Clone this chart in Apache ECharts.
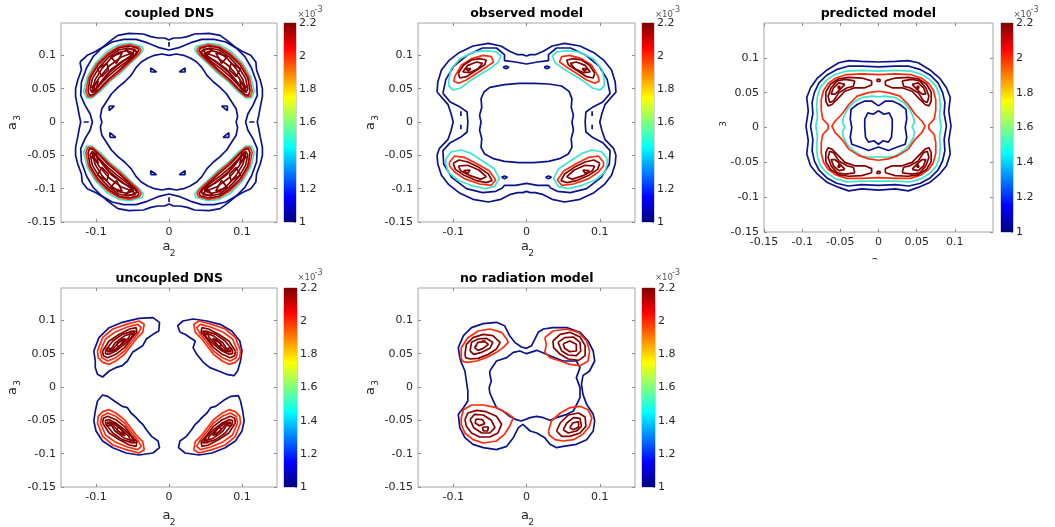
<!DOCTYPE html>
<html><head><meta charset="utf-8">
<script src="https://cdn.jsdelivr.net/npm/echarts@6/dist/echarts.min.js"></script>
<style>html,body{margin:0;padding:0;background:#fff}#c{width:1055px;height:527px}</style>
</head><body><div id="c"></div>
<script>
// ---------------- data (a2, a3 coordinates of contour lines) ----------------
const titles = ['coupled DNS','observed model','predicted model','uncoupled DNS','no radiation model'];
const xTicks = [-0.1, 0, 0.1];
const xTicksPred = [-0.15, -0.1, -0.05, 0, 0.05, 0.1];
const yTicks = [-0.15, -0.1, -0.05, 0, 0.05, 0.1];
const cbTicks = [1, 1.2, 1.4, 1.6, 1.8, 2, 2.2];
const cbMin = 1, cbMax = 2.2;

// coupled DNS
const coupledNavy = [
 [[-0.122,0.090],[-0.112,0.100],[-0.100,0.106],[-0.090,0.113],[-0.080,0.122],[-0.070,0.130],[-0.055,0.133],[-0.035,0.132],[-0.025,0.128],[-0.015,0.126],[-0.006,0.126],[0,0.123],[0.006,0.126],[0.015,0.126],[0.025,0.128],[0.035,0.132],[0.055,0.133],[0.070,0.130],[0.080,0.122],[0.090,0.113],[0.100,0.106],[0.112,0.100],[0.119,0.090],[0.120,0.078],[0.125,0.063],[0.128,0.050],[0.128,0.038],[0.125,0.022],[0.123,0.010],[0.121,0],[0.123,-0.010],[0.125,-0.022],[0.128,-0.038],[0.128,-0.050],[0.125,-0.063],[0.120,-0.078],[0.119,-0.090],[0.112,-0.100],[0.100,-0.106],[0.090,-0.113],[0.080,-0.122],[0.070,-0.130],[0.055,-0.133],[0.035,-0.132],[0.025,-0.128],[0.015,-0.126],[0.006,-0.126],[0,-0.123],[-0.006,-0.126],[-0.015,-0.126],[-0.025,-0.128],[-0.035,-0.132],[-0.055,-0.133],[-0.070,-0.130],[-0.080,-0.122],[-0.090,-0.113],[-0.100,-0.106],[-0.112,-0.100],[-0.119,-0.090],[-0.120,-0.078],[-0.125,-0.063],[-0.128,-0.050],[-0.128,-0.038],[-0.125,-0.022],[-0.123,-0.010],[-0.121,0],[-0.123,0.010],[-0.125,0.022],[-0.128,0.038],[-0.128,0.050],[-0.125,0.063],[-0.120,0.078]],
 [[0,0.108],[0.015,0.112],[0.030,0.119],[0.045,0.124],[0.062,0.124],[0.078,0.120],[0.092,0.111],[0.104,0.098],[0.113,0.081],[0.120,0.060],[0.121,0.040],[0.115,0.025],[0.108,0.012],[0.105,0],[0.108,-0.012],[0.115,-0.025],[0.121,-0.040],[0.120,-0.060],[0.113,-0.081],[0.104,-0.098],[0.092,-0.111],[0.078,-0.120],[0.062,-0.124],[0.045,-0.124],[0.030,-0.119],[0.015,-0.112],[0,-0.108],[-0.015,-0.112],[-0.030,-0.119],[-0.045,-0.124],[-0.062,-0.124],[-0.078,-0.120],[-0.092,-0.111],[-0.104,-0.098],[-0.113,-0.081],[-0.120,-0.060],[-0.121,-0.040],[-0.115,-0.025],[-0.108,-0.012],[-0.105,0],[-0.108,0.012],[-0.115,0.025],[-0.121,0.040],[-0.120,0.060],[-0.113,0.081],[-0.104,0.098],[-0.092,0.111],[-0.078,0.120],[-0.062,0.124],[-0.045,0.124],[-0.030,0.119],[-0.015,0.112]],
 [[0,0.100],[0.010,0.102],[0.020,0.100],[0.029,0.096],[0.038,0.090],[0.045,0.082],[0.052,0.070],[0.061,0.060],[0.070,0.052],[0.079,0.042],[0.086,0.030],[0.092,0.020],[0.094,0.008],[0.092,0],[0.094,-0.008],[0.092,-0.020],[0.086,-0.030],[0.079,-0.042],[0.070,-0.052],[0.061,-0.060],[0.052,-0.070],[0.045,-0.082],[0.038,-0.090],[0.029,-0.096],[0.020,-0.100],[0.010,-0.102],[0,-0.100],[-0.010,-0.102],[-0.020,-0.100],[-0.029,-0.096],[-0.038,-0.090],[-0.045,-0.082],[-0.052,-0.070],[-0.061,-0.060],[-0.070,-0.052],[-0.079,-0.042],[-0.086,-0.030],[-0.092,-0.020],[-0.094,-0.008],[-0.092,0],[-0.094,0.008],[-0.092,0.020],[-0.086,0.030],[-0.079,0.042],[-0.070,0.052],[-0.061,0.060],[-0.052,0.070],[-0.045,0.082],[-0.038,0.090],[-0.029,0.096],[-0.020,0.100],[-0.010,0.102]],
 [[-0.025,0.075],[-0.017,0.075],[-0.025,0.081]],
 [[0.014,0.075],[0.022,0.075],[0.022,0.081]],
 [[-0.082,0.024],[-0.075,0.024],[-0.082,0.017]],
 [[0.072,0.024],[0.080,0.024],[0.080,0.017]],
 [[-0.081,-0.023],[-0.073,-0.023],[-0.081,-0.016]],
 [[0.074,-0.023],[0.082,-0.023],[0.082,-0.016]],
 [[-0.025,-0.079],[-0.017,-0.079],[-0.025,-0.073]],
 [[0.014,-0.079],[0.022,-0.079],[0.022,-0.073]],
 [[0,0.113],[0,0.120]],
 [[0,-0.113],[0,-0.120]],
 [[-0.117,0],[-0.110,0]],
 [[0.110,0],[0.117,0]]
];
const coupledCyan = [
 [[0.035,0.108],[0.037,0.113],[0.053,0.118],[0.069,0.116],[0.085,0.106],[0.101,0.088],[0.112,0.068],[0.117,0.046],[0.113,0.036],[0.106,0.036],[0.094,0.046],[0.081,0.061],[0.067,0.073],[0.053,0.088],[0.040,0.101]],
 [[-0.035,0.108],[-0.037,0.113],[-0.053,0.118],[-0.069,0.116],[-0.085,0.106],[-0.101,0.088],[-0.112,0.068],[-0.117,0.046],[-0.113,0.036],[-0.106,0.036],[-0.094,0.046],[-0.081,0.061],[-0.067,0.073],[-0.053,0.088],[-0.040,0.101]],
 [[0.035,-0.108],[0.037,-0.113],[0.053,-0.118],[0.069,-0.116],[0.085,-0.106],[0.101,-0.088],[0.112,-0.068],[0.117,-0.046],[0.113,-0.036],[0.106,-0.036],[0.094,-0.046],[0.081,-0.061],[0.067,-0.073],[0.053,-0.088],[0.040,-0.101]],
 [[-0.035,-0.108],[-0.037,-0.113],[-0.053,-0.118],[-0.069,-0.116],[-0.085,-0.106],[-0.101,-0.088],[-0.112,-0.068],[-0.117,-0.046],[-0.113,-0.036],[-0.106,-0.036],[-0.094,-0.046],[-0.081,-0.061],[-0.067,-0.073],[-0.053,-0.088],[-0.040,-0.101]]
];
const coupledRed = [
 [[0.038,0.108],[0.041,0.112],[0.054,0.116],[0.069,0.113],[0.084,0.103],[0.099,0.087],[0.110,0.067],[0.114,0.046],[0.111,0.038],[0.105,0.038],[0.095,0.048],[0.082,0.062],[0.068,0.075],[0.054,0.089],[0.042,0.101]],
 [[-0.038,0.108],[-0.041,0.112],[-0.054,0.116],[-0.069,0.113],[-0.084,0.103],[-0.099,0.087],[-0.110,0.067],[-0.114,0.046],[-0.111,0.038],[-0.105,0.038],[-0.095,0.048],[-0.082,0.062],[-0.068,0.075],[-0.054,0.089],[-0.042,0.101]],
 [[0.038,-0.108],[0.041,-0.112],[0.054,-0.116],[0.069,-0.113],[0.084,-0.103],[0.099,-0.087],[0.110,-0.067],[0.114,-0.046],[0.111,-0.038],[0.105,-0.038],[0.095,-0.048],[0.082,-0.062],[0.068,-0.075],[0.054,-0.089],[0.042,-0.101]],
 [[-0.038,-0.108],[-0.041,-0.112],[-0.054,-0.116],[-0.069,-0.113],[-0.084,-0.103],[-0.099,-0.087],[-0.110,-0.067],[-0.114,-0.046],[-0.111,-0.038],[-0.105,-0.038],[-0.095,-0.048],[-0.082,-0.062],[-0.068,-0.075],[-0.054,-0.089],[-0.042,-0.101]]
];
const coupledDark = [
 [[0.041,0.108],[0.044,0.111],[0.055,0.114],[0.069,0.111],[0.083,0.101],[0.097,0.086],[0.108,0.066],[0.111,0.047],[0.109,0.040],[0.104,0.041],[0.095,0.050],[0.083,0.064],[0.069,0.077],[0.056,0.090],[0.045,0.101]],
 [[0.044,0.106],[0.056,0.111],[0.069,0.108],[0.082,0.098],[0.095,0.083],[0.105,0.065],[0.108,0.049],[0.105,0.044],[0.097,0.053],[0.085,0.067],[0.071,0.080],[0.058,0.091],[0.047,0.100]],
 [[0.048,0.103],[0.058,0.107],[0.070,0.104],[0.081,0.094],[0.092,0.080],[0.101,0.064],[0.104,0.052],[0.100,0.050],[0.093,0.060],[0.082,0.074],[0.070,0.085],[0.058,0.095]],
 [[0.046,0.109],[0.060,0.110],[0.052,0.100]],
 [[0.064,0.104],[0.080,0.098],[0.072,0.088]],
 [[0.085,0.088],[0.098,0.080],[0.092,0.068],[0.083,0.078]],
 [[0.097,0.062],[0.106,0.052],[0.100,0.047]],
 [[0.050,0.104],[0.066,0.097],[0.082,0.084],[0.096,0.066],[0.105,0.048],[0.102,0.046],[0.092,0.062],[0.078,0.080],[0.063,0.092],[0.049,0.099]],
 [[-0.041,0.108],[-0.044,0.111],[-0.055,0.114],[-0.069,0.111],[-0.083,0.101],[-0.097,0.086],[-0.108,0.066],[-0.111,0.047],[-0.109,0.040],[-0.104,0.041],[-0.095,0.050],[-0.083,0.064],[-0.069,0.077],[-0.056,0.090],[-0.045,0.101]],
 [[-0.044,0.106],[-0.056,0.111],[-0.069,0.108],[-0.082,0.098],[-0.095,0.083],[-0.105,0.065],[-0.108,0.049],[-0.105,0.044],[-0.097,0.053],[-0.085,0.067],[-0.071,0.080],[-0.058,0.091],[-0.047,0.100]],
 [[-0.048,0.103],[-0.058,0.107],[-0.070,0.104],[-0.081,0.094],[-0.092,0.080],[-0.101,0.064],[-0.104,0.052],[-0.100,0.050],[-0.093,0.060],[-0.082,0.074],[-0.070,0.085],[-0.058,0.095]],
 [[-0.046,0.109],[-0.060,0.110],[-0.052,0.100]],
 [[-0.064,0.104],[-0.080,0.098],[-0.072,0.088]],
 [[-0.085,0.088],[-0.098,0.080],[-0.092,0.068],[-0.083,0.078]],
 [[-0.097,0.062],[-0.106,0.052],[-0.100,0.047]],
 [[-0.050,0.104],[-0.066,0.097],[-0.082,0.084],[-0.096,0.066],[-0.105,0.048],[-0.102,0.046],[-0.092,0.062],[-0.078,0.080],[-0.063,0.092],[-0.049,0.099]],
 [[0.041,-0.108],[0.044,-0.111],[0.055,-0.114],[0.069,-0.111],[0.083,-0.101],[0.097,-0.086],[0.108,-0.066],[0.111,-0.047],[0.109,-0.040],[0.104,-0.041],[0.095,-0.050],[0.083,-0.064],[0.069,-0.077],[0.056,-0.090],[0.045,-0.101]],
 [[0.044,-0.106],[0.056,-0.111],[0.069,-0.108],[0.082,-0.098],[0.095,-0.083],[0.105,-0.065],[0.108,-0.049],[0.105,-0.044],[0.097,-0.053],[0.085,-0.067],[0.071,-0.080],[0.058,-0.091],[0.047,-0.100]],
 [[0.048,-0.103],[0.058,-0.107],[0.070,-0.104],[0.081,-0.094],[0.092,-0.080],[0.101,-0.064],[0.104,-0.052],[0.100,-0.050],[0.093,-0.060],[0.082,-0.074],[0.070,-0.085],[0.058,-0.095]],
 [[0.046,-0.109],[0.060,-0.110],[0.052,-0.100]],
 [[0.064,-0.104],[0.080,-0.098],[0.072,-0.088]],
 [[0.085,-0.088],[0.098,-0.080],[0.092,-0.068],[0.083,-0.078]],
 [[0.097,-0.062],[0.106,-0.052],[0.100,-0.047]],
 [[0.050,-0.104],[0.066,-0.097],[0.082,-0.084],[0.096,-0.066],[0.105,-0.048],[0.102,-0.046],[0.092,-0.062],[0.078,-0.080],[0.063,-0.092],[0.049,-0.099]],
 [[-0.041,-0.108],[-0.044,-0.111],[-0.055,-0.114],[-0.069,-0.111],[-0.083,-0.101],[-0.097,-0.086],[-0.108,-0.066],[-0.111,-0.047],[-0.109,-0.040],[-0.104,-0.041],[-0.095,-0.050],[-0.083,-0.064],[-0.069,-0.077],[-0.056,-0.090],[-0.045,-0.101]],
 [[-0.044,-0.106],[-0.056,-0.111],[-0.069,-0.108],[-0.082,-0.098],[-0.095,-0.083],[-0.105,-0.065],[-0.108,-0.049],[-0.105,-0.044],[-0.097,-0.053],[-0.085,-0.067],[-0.071,-0.080],[-0.058,-0.091],[-0.047,-0.100]],
 [[-0.048,-0.103],[-0.058,-0.107],[-0.070,-0.104],[-0.081,-0.094],[-0.092,-0.080],[-0.101,-0.064],[-0.104,-0.052],[-0.100,-0.050],[-0.093,-0.060],[-0.082,-0.074],[-0.070,-0.085],[-0.058,-0.095]],
 [[-0.046,-0.109],[-0.060,-0.110],[-0.052,-0.100]],
 [[-0.064,-0.104],[-0.080,-0.098],[-0.072,-0.088]],
 [[-0.085,-0.088],[-0.098,-0.080],[-0.092,-0.068],[-0.083,-0.078]],
 [[-0.097,-0.062],[-0.106,-0.052],[-0.100,-0.047]],
 [[-0.050,-0.104],[-0.066,-0.097],[-0.082,-0.084],[-0.096,-0.066],[-0.105,-0.048],[-0.102,-0.046],[-0.092,-0.062],[-0.078,-0.080],[-0.063,-0.092],[-0.049,-0.099]]
];

// observed model
const observedNavy = [
 [[-0.122,0.045],[-0.121,0.060],[-0.116,0.078],[-0.106,0.092],[-0.092,0.104],[-0.073,0.114],[-0.052,0.118],[-0.035,0.114],[-0.023,0.106],[-0.012,0.101],[-0.005,0.101],[0,0.099],[0.005,0.101],[0.012,0.101],[0.023,0.106],[0.035,0.114],[0.052,0.118],[0.073,0.114],[0.092,0.104],[0.106,0.092],[0.116,0.078],[0.121,0.060],[0.122,0.045],[0.107,0.026],[0.103,0.013],[0.100,0],[0.103,-0.013],[0.107,-0.026],[0.119,-0.040],[0.122,-0.050],[0.121,-0.063],[0.116,-0.080],[0.106,-0.094],[0.092,-0.106],[0.073,-0.116],[0.052,-0.120],[0.035,-0.116],[0.023,-0.109],[0.012,-0.106],[0.005,-0.106],[0,-0.104],[-0.005,-0.106],[-0.012,-0.106],[-0.023,-0.109],[-0.035,-0.116],[-0.052,-0.120],[-0.073,-0.116],[-0.092,-0.106],[-0.106,-0.094],[-0.116,-0.080],[-0.121,-0.063],[-0.122,-0.050],[-0.119,-0.040],[-0.107,-0.026],[-0.103,-0.013],[-0.100,0],[-0.103,0.013],[-0.107,0.026]],
 [[-0.114,0.043],[-0.110,0.064],[-0.099,0.084],[-0.081,0.100],[-0.060,0.111],[-0.041,0.111],[-0.030,0.101],[-0.030,0.092],[-0.015,0.090],[0,0.087],[0.015,0.090],[0.030,0.092],[0.030,0.101],[0.041,0.111],[0.060,0.111],[0.081,0.100],[0.099,0.084],[0.110,0.064],[0.114,0.043],[0.104,0.030],[0.090,0.022],[0.081,0.015],[0.080,0],[0.081,-0.015],[0.090,-0.023],[0.104,-0.031],[0.114,-0.043],[0.113,-0.063],[0.102,-0.083],[0.082,-0.100],[0.060,-0.106],[0.042,-0.104],[0.033,-0.099],[0.030,-0.095],[0.015,-0.095],[0,-0.092],[-0.015,-0.095],[-0.030,-0.095],[-0.033,-0.099],[-0.042,-0.104],[-0.060,-0.106],[-0.082,-0.100],[-0.102,-0.083],[-0.113,-0.063],[-0.114,-0.043],[-0.104,-0.031],[-0.090,-0.023],[-0.081,-0.015],[-0.080,0],[-0.081,0.015],[-0.090,0.022],[-0.104,0.030]],
 [[-0.050,0.052],[-0.030,0.056],[-0.010,0.058],[0.010,0.058],[0.030,0.057],[0.048,0.054],[0.058,0.046],[0.062,0.035],[0.061,0.022],[0.064,0.010],[0.062,0],[0.064,-0.012],[0.061,-0.025],[0.062,-0.038],[0.057,-0.048],[0.045,-0.055],[0.030,-0.059],[0.010,-0.061],[-0.010,-0.061],[-0.030,-0.059],[-0.045,-0.055],[-0.057,-0.048],[-0.062,-0.038],[-0.061,-0.025],[-0.064,-0.012],[-0.062,0],[-0.064,0.010],[-0.061,0.022],[-0.062,0.035],[-0.058,0.045]],
 [[-0.032,0.082],[-0.028,0.084],[-0.024,0.082],[-0.028,0.080]],
 [[0.024,0.082],[0.028,0.084],[0.032,0.082],[0.028,0.080]],
 [[-0.034,-0.083],[-0.030,-0.081],[-0.026,-0.083],[-0.030,-0.085]],
 [[0.026,-0.083],[0.030,-0.081],[0.034,-0.083],[0.030,-0.085]],
 [[-0.0895,0.009],[-0.0895,0.016]],
 [[-0.0895,-0.011],[-0.0895,-0.004]],
 [[0.0895,0.009],[0.0895,0.016]],
 [[0.0895,-0.011],[0.0895,-0.004]]
];
const observedCyan = [
 [[-0.106,0.062],[-0.103,0.079],[-0.091,0.095],[-0.072,0.105],[-0.055,0.107],[-0.041,0.105],[-0.035,0.099],[-0.039,0.089],[-0.050,0.080],[-0.064,0.071],[-0.078,0.061],[-0.090,0.051],[-0.100,0.048],[-0.106,0.054]],
 [[0.106,0.062],[0.103,0.079],[0.091,0.095],[0.072,0.105],[0.055,0.107],[0.041,0.105],[0.035,0.099],[0.039,0.089],[0.050,0.080],[0.064,0.071],[0.078,0.061],[0.090,0.051],[0.100,0.048],[0.106,0.054]],
 [[-0.110,-0.055],[-0.103,-0.045],[-0.089,-0.042],[-0.076,-0.047],[-0.062,-0.057],[-0.044,-0.070],[-0.037,-0.085],[-0.044,-0.097],[-0.057,-0.100],[-0.076,-0.095],[-0.094,-0.087],[-0.107,-0.075],[-0.110,-0.062]],
 [[0.110,-0.055],[0.103,-0.045],[0.089,-0.042],[0.076,-0.047],[0.062,-0.057],[0.044,-0.070],[0.037,-0.085],[0.044,-0.097],[0.057,-0.100],[0.076,-0.095],[0.094,-0.087],[0.107,-0.075],[0.110,-0.062]]
];
const observedRed = [
 [[-0.098,0.068],[-0.089,0.085],[-0.075,0.095],[-0.059,0.100],[-0.048,0.098],[-0.045,0.090],[-0.054,0.083],[-0.068,0.073],[-0.082,0.063],[-0.093,0.058],[-0.099,0.061]],
 [[0.098,0.068],[0.089,0.085],[0.075,0.095],[0.059,0.100],[0.048,0.098],[0.045,0.090],[0.054,0.083],[0.068,0.073],[0.082,0.063],[0.093,0.058],[0.099,0.061]],
 [[-0.105,-0.060],[-0.098,-0.051],[-0.085,-0.053],[-0.069,-0.062],[-0.051,-0.073],[-0.042,-0.087],[-0.048,-0.095],[-0.064,-0.093],[-0.085,-0.085],[-0.098,-0.075],[-0.105,-0.066]],
 [[0.105,-0.060],[0.098,-0.051],[0.085,-0.053],[0.069,-0.062],[0.051,-0.073],[0.042,-0.087],[0.048,-0.095],[0.064,-0.093],[0.085,-0.085],[0.098,-0.075],[0.105,-0.066]]
];
const observedDark = [
 [[-0.093,0.073],[-0.086,0.085],[-0.075,0.093],[-0.064,0.095],[-0.055,0.093],[-0.057,0.086],[-0.068,0.078],[-0.082,0.068],[-0.091,0.066]],
 [[-0.087,0.075],[-0.080,0.085],[-0.068,0.090],[-0.060,0.088],[-0.066,0.080],[-0.078,0.074]],
 [[-0.083,0.080],[-0.076,0.080],[-0.079,0.076]],
 [[0.093,0.073],[0.086,0.085],[0.075,0.093],[0.064,0.095],[0.055,0.093],[0.057,0.086],[0.068,0.078],[0.082,0.068],[0.091,0.066]],
 [[0.087,0.075],[0.080,0.085],[0.068,0.090],[0.060,0.088],[0.066,0.080],[0.078,0.074]],
 [[0.083,0.080],[0.076,0.080],[0.079,0.076]],
 [[-0.100,-0.062],[-0.092,-0.057],[-0.080,-0.060],[-0.065,-0.068],[-0.052,-0.078],[-0.047,-0.088],[-0.055,-0.091],[-0.068,-0.088],[-0.085,-0.080],[-0.097,-0.071]],
 [[-0.093,-0.066],[-0.080,-0.065],[-0.065,-0.072],[-0.055,-0.082],[-0.062,-0.086],[-0.078,-0.080],[-0.090,-0.073]],
 [[-0.086,-0.073],[-0.077,-0.072],[-0.080,-0.077]],
 [[0.100,-0.062],[0.092,-0.057],[0.080,-0.060],[0.065,-0.068],[0.052,-0.078],[0.047,-0.088],[0.055,-0.091],[0.068,-0.088],[0.085,-0.080],[0.097,-0.071]],
 [[0.093,-0.066],[0.080,-0.065],[0.065,-0.072],[0.055,-0.082],[0.062,-0.086],[0.078,-0.080],[0.090,-0.073]],
 [[0.086,-0.073],[0.077,-0.072],[0.080,-0.077]]
];

// predicted model
const predictedNavy = [
 [[0,0.094],[0.022,0.095],[0.039,0.096],[0.052,0.093],[0.067,0.083],[0.080,0.071],[0.089,0.057],[0.094,0.043],[0.092,0.024],[0.095,0.002],[0.092,-0.019],[0.094,-0.038],[0.089,-0.055],[0.080,-0.067],[0.067,-0.079],[0.052,-0.086],[0.039,-0.091],[0.022,-0.088],[0,-0.090],[-0.022,-0.088],[-0.039,-0.091],[-0.052,-0.086],[-0.067,-0.079],[-0.080,-0.067],[-0.089,-0.055],[-0.094,-0.038],[-0.092,-0.019],[-0.095,0.002],[-0.092,0.024],[-0.094,0.043],[-0.089,0.057],[-0.080,0.071],[-0.067,0.083],[-0.052,0.093],[-0.039,0.096],[-0.022,0.095]],
 [[0,0.087],[0.022,0.088],[0.040,0.088],[0.055,0.083],[0.068,0.075],[0.078,0.064],[0.084,0.050],[0.087,0.036],[0.086,0.020],[0.089,0.002],[0.086,-0.017],[0.087,-0.033],[0.084,-0.048],[0.078,-0.061],[0.068,-0.072],[0.055,-0.080],[0.040,-0.084],[0.022,-0.082],[0,-0.083],[-0.022,-0.082],[-0.040,-0.084],[-0.055,-0.080],[-0.068,-0.072],[-0.078,-0.061],[-0.084,-0.048],[-0.087,-0.033],[-0.086,-0.017],[-0.089,0.002],[-0.086,0.020],[-0.087,0.036],[-0.084,0.050],[-0.078,0.064],[-0.068,0.075],[-0.055,0.083],[-0.040,0.088],[-0.022,0.088]],
 [[0,0.031],[0.009,0.038],[0.018,0.038],[0.028,0.033],[0.036,0.026],[0.037,0.012],[0.035,0],[0.037,-0.014],[0.035,-0.024],[0.022,-0.029],[0.013,-0.033],[0,-0.028],[-0.013,-0.033],[-0.022,-0.029],[-0.035,-0.024],[-0.037,-0.014],[-0.035,0],[-0.037,0.012],[-0.036,0.026],[-0.028,0.033],[-0.018,0.038],[-0.009,0.038]],
 [[0,0.024],[0.007,0.019],[0.014,0.021],[0.018,0.012],[0.018,0],[0.017,-0.014],[0.013,-0.021],[0.006,-0.019],[0,-0.024],[-0.006,-0.019],[-0.013,-0.021],[-0.017,-0.014],[-0.018,0],[-0.018,0.012],[-0.014,0.021],[-0.007,0.019]]
];
const predictedCyan = [
 [[0,0.081],[0.022,0.082],[0.042,0.081],[0.057,0.076],[0.068,0.068],[0.076,0.058],[0.080,0.045],[0.081,0.030],[0.080,0.015],[0.082,0.002],[0.080,-0.013],[0.081,-0.027],[0.080,-0.042],[0.076,-0.055],[0.068,-0.065],[0.057,-0.073],[0.042,-0.078],[0.022,-0.077],[0,-0.077],[-0.022,-0.077],[-0.042,-0.078],[-0.057,-0.073],[-0.068,-0.065],[-0.076,-0.055],[-0.080,-0.042],[-0.081,-0.027],[-0.080,-0.013],[-0.082,0.002],[-0.080,0.015],[-0.081,0.030],[-0.080,0.045],[-0.076,0.058],[-0.068,0.068],[-0.057,0.076],[-0.042,0.081],[-0.022,0.082]],
 [[0,0.044],[0.009,0.045],[0.022,0.043],[0.033,0.036],[0.041,0.026],[0.046,0.014],[0.047,0.007],[0.044,0.001],[0.047,-0.006],[0.046,-0.014],[0.041,-0.024],[0.033,-0.033],[0.022,-0.041],[0.009,-0.043],[0,-0.042],[-0.009,-0.043],[-0.022,-0.041],[-0.033,-0.033],[-0.041,-0.024],[-0.046,-0.014],[-0.047,-0.006],[-0.044,0.001],[-0.047,0.007],[-0.046,0.014],[-0.041,0.026],[-0.033,0.036],[-0.022,0.043],[-0.009,0.045]]
];
const predictedRed = [
 [[0,0.076],[0.022,0.077],[0.042,0.076],[0.056,0.071],[0.066,0.063],[0.072,0.053],[0.075,0.040],[0.075,0.025],[0.073,0.012],[0.066,0.004],[0.066,-0.002],[0.073,-0.010],[0.075,-0.022],[0.075,-0.037],[0.072,-0.050],[0.066,-0.060],[0.056,-0.068],[0.042,-0.073],[0.022,-0.073],[0,-0.072],[-0.022,-0.073],[-0.042,-0.073],[-0.056,-0.068],[-0.066,-0.060],[-0.072,-0.050],[-0.075,-0.037],[-0.075,-0.022],[-0.073,-0.010],[-0.066,-0.002],[-0.066,0.004],[-0.073,0.012],[-0.075,0.025],[-0.075,0.040],[-0.072,0.053],[-0.066,0.063],[-0.056,0.071],[-0.042,0.076],[-0.022,0.077]],
 [[0,0.052],[0.013,0.050],[0.028,0.045],[0.039,0.033],[0.048,0.019],[0.057,0.009],[0.061,0.002],[0.057,-0.007],[0.048,-0.017],[0.039,-0.031],[0.026,-0.040],[0.013,-0.045],[0,-0.047],[-0.013,-0.045],[-0.026,-0.040],[-0.039,-0.031],[-0.048,-0.017],[-0.057,-0.007],[-0.061,0.002],[-0.057,0.009],[-0.048,0.019],[-0.039,0.033],[-0.028,0.045],[-0.013,0.050]]
];
const predictedDark = [
 [[0.009,0.067],[0.022,0.071],[0.039,0.072],[0.052,0.070],[0.063,0.062],[0.069,0.051],[0.069,0.038],[0.066,0.031],[0.061,0.033],[0.052,0.043],[0.044,0.052],[0.031,0.057],[0.018,0.057],[0.009,0.061]],
 [[0.031,0.067],[0.044,0.069],[0.054,0.067],[0.062,0.057],[0.066,0.045],[0.064,0.036],[0.059,0.038],[0.052,0.050],[0.041,0.057],[0.033,0.059]],
 [[0.044,0.062],[0.052,0.064],[0.059,0.057],[0.062,0.048],[0.057,0.048],[0.050,0.055]],
 [[0.050,0.059],[0.053,0.059],[0.052,0.055]],
 [[-0.009,0.067],[-0.022,0.071],[-0.039,0.072],[-0.052,0.070],[-0.063,0.062],[-0.069,0.051],[-0.069,0.038],[-0.066,0.031],[-0.061,0.033],[-0.052,0.043],[-0.044,0.052],[-0.031,0.057],[-0.018,0.057],[-0.009,0.061]],
 [[-0.031,0.067],[-0.044,0.069],[-0.054,0.067],[-0.062,0.057],[-0.066,0.045],[-0.064,0.036],[-0.059,0.038],[-0.052,0.050],[-0.041,0.057],[-0.033,0.059]],
 [[-0.044,0.062],[-0.052,0.064],[-0.059,0.057],[-0.062,0.048],[-0.057,0.048],[-0.050,0.055]],
 [[-0.050,0.059],[-0.053,0.059],[-0.052,0.055]],
 [[0.009,-0.065],[0.022,-0.069],[0.039,-0.070],[0.052,-0.068],[0.063,-0.060],[0.069,-0.049],[0.069,-0.036],[0.066,-0.029],[0.061,-0.031],[0.052,-0.041],[0.044,-0.050],[0.031,-0.055],[0.018,-0.055],[0.009,-0.059]],
 [[0.031,-0.065],[0.044,-0.067],[0.054,-0.065],[0.062,-0.055],[0.066,-0.043],[0.064,-0.034],[0.059,-0.036],[0.052,-0.048],[0.041,-0.055],[0.033,-0.057]],
 [[0.044,-0.060],[0.052,-0.062],[0.059,-0.055],[0.062,-0.046],[0.057,-0.046],[0.050,-0.053]],
 [[0.050,-0.057],[0.053,-0.057],[0.052,-0.053]],
 [[-0.009,-0.065],[-0.022,-0.069],[-0.039,-0.070],[-0.052,-0.068],[-0.063,-0.060],[-0.069,-0.049],[-0.069,-0.036],[-0.066,-0.029],[-0.061,-0.031],[-0.052,-0.041],[-0.044,-0.050],[-0.031,-0.055],[-0.018,-0.055],[-0.009,-0.059]],
 [[-0.031,-0.065],[-0.044,-0.067],[-0.054,-0.065],[-0.062,-0.055],[-0.066,-0.043],[-0.064,-0.034],[-0.059,-0.036],[-0.052,-0.048],[-0.041,-0.055],[-0.033,-0.057]],
 [[-0.044,-0.060],[-0.052,-0.062],[-0.059,-0.055],[-0.062,-0.046],[-0.057,-0.046],[-0.050,-0.053]],
 [[-0.050,-0.057],[-0.053,-0.057],[-0.052,-0.053]],
 [[-0.002,0.066],[0.002,0.066],[0.002,0.069],[-0.002,0.069]],
 [[-0.002,-0.063],[0.002,-0.063],[0.002,-0.066],[-0.002,-0.066]]
];

// uncoupled DNS
const uncoupledNavy = [
 [[-0.101,0.039],[-0.103,0.054],[-0.096,0.074],[-0.082,0.089],[-0.064,0.097],[-0.041,0.103],[-0.022,0.104],[-0.013,0.097],[-0.014,0.084],[-0.022,0.079],[-0.031,0.072],[-0.036,0.062],[-0.043,0.057],[-0.050,0.052],[-0.057,0.039],[-0.064,0.032],[-0.073,0.029],[-0.082,0.024],[-0.091,0.015],[-0.098,0.019],[-0.101,0.029]],
 [[0.015,0.082],[0.012,0.092],[0.019,0.099],[0.033,0.102],[0.052,0.099],[0.070,0.094],[0.086,0.084],[0.097,0.069],[0.100,0.054],[0.098,0.039],[0.094,0.024],[0.089,0.017],[0.079,0.019],[0.068,0.024],[0.056,0.029],[0.047,0.037],[0.038,0.049],[0.033,0.059],[0.036,0.069],[0.029,0.074],[0.022,0.079]],
 [[-0.098,-0.021],[-0.091,-0.012],[-0.084,-0.014],[-0.075,-0.021],[-0.064,-0.029],[-0.057,-0.031],[-0.052,-0.039],[-0.045,-0.046],[-0.041,-0.051],[-0.036,-0.056],[-0.031,-0.064],[-0.024,-0.074],[-0.015,-0.081],[-0.013,-0.091],[-0.022,-0.099],[-0.041,-0.102],[-0.059,-0.099],[-0.077,-0.091],[-0.091,-0.081],[-0.100,-0.066],[-0.103,-0.051],[-0.101,-0.036]],
 [[0.098,-0.021],[0.095,-0.013],[0.085,-0.014],[0.075,-0.020],[0.064,-0.029],[0.057,-0.031],[0.052,-0.039],[0.045,-0.046],[0.041,-0.051],[0.036,-0.056],[0.031,-0.064],[0.024,-0.074],[0.015,-0.081],[0.013,-0.091],[0.022,-0.099],[0.041,-0.102],[0.059,-0.099],[0.077,-0.091],[0.091,-0.081],[0.100,-0.066],[0.103,-0.051],[0.101,-0.036]]
];
const uncoupledRed = [
 [[-0.098,0.054],[-0.091,0.074],[-0.077,0.087],[-0.059,0.094],[-0.041,0.099],[-0.034,0.094],[-0.036,0.082],[-0.045,0.072],[-0.052,0.062],[-0.061,0.049],[-0.073,0.039],[-0.082,0.034],[-0.091,0.037],[-0.097,0.044]],
 [[-0.094,0.054],[-0.087,0.072],[-0.073,0.083],[-0.057,0.090],[-0.043,0.094],[-0.038,0.089],[-0.043,0.079],[-0.052,0.067],[-0.061,0.054],[-0.073,0.044],[-0.084,0.039],[-0.092,0.044]],
 [[0.098,0.054],[0.091,0.074],[0.077,0.087],[0.059,0.094],[0.041,0.099],[0.034,0.094],[0.036,0.082],[0.045,0.072],[0.052,0.062],[0.061,0.049],[0.073,0.039],[0.082,0.034],[0.091,0.037],[0.097,0.044]],
 [[0.094,0.054],[0.087,0.072],[0.073,0.083],[0.057,0.090],[0.043,0.094],[0.038,0.089],[0.043,0.079],[0.052,0.067],[0.061,0.054],[0.073,0.044],[0.084,0.039],[0.092,0.044]],
 [[-0.098,-0.054],[-0.091,-0.074],[-0.077,-0.087],[-0.059,-0.094],[-0.041,-0.099],[-0.034,-0.094],[-0.036,-0.082],[-0.045,-0.072],[-0.052,-0.062],[-0.061,-0.049],[-0.073,-0.039],[-0.082,-0.034],[-0.091,-0.037],[-0.097,-0.044]],
 [[-0.094,-0.054],[-0.087,-0.072],[-0.073,-0.083],[-0.057,-0.090],[-0.043,-0.094],[-0.038,-0.089],[-0.043,-0.079],[-0.052,-0.067],[-0.061,-0.054],[-0.073,-0.044],[-0.084,-0.039],[-0.092,-0.044]],
 [[0.098,-0.054],[0.091,-0.074],[0.077,-0.087],[0.059,-0.094],[0.041,-0.099],[0.034,-0.094],[0.036,-0.082],[0.045,-0.072],[0.052,-0.062],[0.061,-0.049],[0.073,-0.039],[0.082,-0.034],[0.091,-0.037],[0.097,-0.044]],
 [[0.094,-0.054],[0.087,-0.072],[0.073,-0.083],[0.057,-0.090],[0.043,-0.094],[0.038,-0.089],[0.043,-0.079],[0.052,-0.067],[0.061,-0.054],[0.073,-0.044],[0.084,-0.039],[0.092,-0.044]]
];
const uncoupledDark = [
 [[-0.091,0.054],[-0.082,0.069],[-0.068,0.079],[-0.054,0.087],[-0.045,0.089],[-0.044,0.082],[-0.052,0.072],[-0.061,0.059],[-0.073,0.049],[-0.084,0.044],[-0.090,0.047]],
 [[-0.087,0.055],[-0.077,0.069],[-0.064,0.079],[-0.052,0.083],[-0.048,0.083],[-0.051,0.075],[-0.061,0.064],[-0.073,0.054],[-0.082,0.049],[-0.087,0.050]],
 [[-0.082,0.052],[-0.074,0.066],[-0.062,0.076],[-0.053,0.080],[-0.055,0.074],[-0.064,0.065],[-0.074,0.056]],
 [[-0.078,0.055],[-0.070,0.066],[-0.060,0.073],[-0.058,0.070],[-0.067,0.062],[-0.075,0.054]],
 [[-0.054,0.083],[-0.046,0.084],[-0.050,0.078]],
 [[-0.086,0.058],[-0.080,0.058],[-0.084,0.052]],
 [[-0.072,0.063],[-0.064,0.072],[-0.060,0.070],[-0.068,0.060]],
 [[0.091,0.054],[0.082,0.069],[0.068,0.079],[0.054,0.087],[0.045,0.089],[0.044,0.082],[0.052,0.072],[0.061,0.059],[0.073,0.049],[0.084,0.044],[0.090,0.047]],
 [[0.087,0.055],[0.077,0.069],[0.064,0.079],[0.052,0.083],[0.048,0.083],[0.051,0.075],[0.061,0.064],[0.073,0.054],[0.082,0.049],[0.087,0.050]],
 [[0.082,0.052],[0.074,0.066],[0.062,0.076],[0.053,0.080],[0.055,0.074],[0.064,0.065],[0.074,0.056]],
 [[0.078,0.055],[0.070,0.066],[0.060,0.073],[0.058,0.070],[0.067,0.062],[0.075,0.054]],
 [[0.054,0.083],[0.046,0.084],[0.050,0.078]],
 [[0.086,0.058],[0.080,0.058],[0.084,0.052]],
 [[0.072,0.063],[0.064,0.072],[0.060,0.070],[0.068,0.060]],
 [[-0.091,-0.054],[-0.082,-0.069],[-0.068,-0.079],[-0.054,-0.087],[-0.045,-0.089],[-0.044,-0.082],[-0.052,-0.072],[-0.061,-0.059],[-0.073,-0.049],[-0.084,-0.044],[-0.090,-0.047]],
 [[-0.087,-0.055],[-0.077,-0.069],[-0.064,-0.079],[-0.052,-0.083],[-0.048,-0.083],[-0.051,-0.075],[-0.061,-0.064],[-0.073,-0.054],[-0.082,-0.049],[-0.087,-0.050]],
 [[-0.082,-0.052],[-0.074,-0.066],[-0.062,-0.076],[-0.053,-0.080],[-0.055,-0.074],[-0.064,-0.065],[-0.074,-0.056]],
 [[-0.078,-0.055],[-0.070,-0.066],[-0.060,-0.073],[-0.058,-0.070],[-0.067,-0.062],[-0.075,-0.054]],
 [[-0.054,-0.083],[-0.046,-0.084],[-0.050,-0.078]],
 [[-0.086,-0.058],[-0.080,-0.058],[-0.084,-0.052]],
 [[-0.072,-0.063],[-0.064,-0.072],[-0.060,-0.070],[-0.068,-0.060]],
 [[0.091,-0.054],[0.082,-0.069],[0.068,-0.079],[0.054,-0.087],[0.045,-0.089],[0.044,-0.082],[0.052,-0.072],[0.061,-0.059],[0.073,-0.049],[0.084,-0.044],[0.090,-0.047]],
 [[0.087,-0.055],[0.077,-0.069],[0.064,-0.079],[0.052,-0.083],[0.048,-0.083],[0.051,-0.075],[0.061,-0.064],[0.073,-0.054],[0.082,-0.049],[0.087,-0.050]],
 [[0.082,-0.052],[0.074,-0.066],[0.062,-0.076],[0.053,-0.080],[0.055,-0.074],[0.064,-0.065],[0.074,-0.056]],
 [[0.078,-0.055],[0.070,-0.066],[0.060,-0.073],[0.058,-0.070],[0.067,-0.062],[0.075,-0.054]],
 [[0.054,-0.083],[0.046,-0.084],[0.050,-0.078]],
 [[0.086,-0.058],[0.080,-0.058],[0.084,-0.052]],
 [[0.072,-0.063],[0.064,-0.072],[0.060,-0.070],[0.068,-0.060]]
];

// no radiation model
const noRadNavy = [
 [[-0.091,0.044],[-0.093,0.059],[-0.086,0.077],[-0.075,0.089],[-0.059,0.095],[-0.041,0.097],[-0.030,0.092],[-0.023,0.077],[-0.016,0.067],[-0.007,0.060],[0,0.058],[0.007,0.062],[0.016,0.082],[0.023,0.087],[0.036,0.089],[0.055,0.089],[0.073,0.082],[0.084,0.069],[0.091,0.054],[0.093,0.039],[0.086,0.024],[0.077,0.017],[0.075,0.004],[0.077,-0.011],[0.082,-0.026],[0.091,-0.041],[0.093,-0.051],[0.091,-0.066],[0.082,-0.079],[0.068,-0.086],[0.050,-0.089],[0.041,-0.091],[0.032,-0.086],[0.025,-0.076],[0.014,-0.069],[0.005,-0.066],[-0.005,-0.056],[-0.011,-0.061],[-0.018,-0.076],[-0.027,-0.089],[-0.041,-0.094],[-0.059,-0.091],[-0.073,-0.086],[-0.084,-0.076],[-0.091,-0.061],[-0.093,-0.041],[-0.086,-0.031],[-0.080,-0.021],[-0.080,-0.006],[-0.082,0.009],[-0.084,0.024],[-0.089,0.037]],
 [[-0.050,0.024],[-0.041,0.039],[-0.027,0.044],[-0.018,0.052],[-0.009,0.054],[0,0.050],[0.014,0.055],[0.032,0.047],[0.050,0.039],[0.068,0.039],[0.073,0.029],[0.068,0.014],[0.073,-0.001],[0.073,-0.016],[0.064,-0.036],[0.055,-0.041],[0.041,-0.046],[0.032,-0.050],[0.023,-0.046],[0.014,-0.044],[0.005,-0.046],[-0.007,-0.051],[-0.014,-0.049],[-0.023,-0.044],[-0.032,-0.036],[-0.041,-0.031],[-0.046,-0.019],[-0.050,-0.009],[-0.051,-0.001],[-0.048,0.009],[-0.050,0.019]]
];
const noRadRed = [
 [[-0.089,0.042],[-0.089,0.059],[-0.080,0.074],[-0.066,0.084],[-0.050,0.087],[-0.034,0.082],[-0.027,0.072],[-0.025,0.067],[-0.032,0.059],[-0.041,0.052],[-0.055,0.044],[-0.068,0.039],[-0.080,0.037],[-0.086,0.038]],
 [[0.025,0.074],[0.036,0.084],[0.055,0.087],[0.071,0.082],[0.082,0.069],[0.086,0.054],[0.084,0.039],[0.073,0.032],[0.059,0.034],[0.046,0.039],[0.032,0.044],[0.025,0.052],[0.027,0.064]],
 [[-0.089,-0.046],[-0.086,-0.034],[-0.075,-0.027],[-0.059,-0.027],[-0.041,-0.031],[-0.027,-0.039],[-0.018,-0.046],[-0.023,-0.059],[-0.030,-0.071],[-0.041,-0.081],[-0.059,-0.084],[-0.073,-0.079],[-0.084,-0.069],[-0.089,-0.056]],
 [[0.030,-0.066],[0.034,-0.051],[0.046,-0.039],[0.059,-0.031],[0.073,-0.029],[0.084,-0.034],[0.089,-0.046],[0.086,-0.059],[0.077,-0.071],[0.064,-0.079],[0.050,-0.081],[0.039,-0.079],[0.031,-0.072]]
];
const noRadDark = [
 [[-0.084,0.049],[-0.082,0.064],[-0.073,0.074],[-0.059,0.079],[-0.046,0.077],[-0.036,0.067],[-0.041,0.057],[-0.052,0.049],[-0.066,0.043],[-0.077,0.042],[-0.083,0.044]],
 [[-0.077,0.054],[-0.075,0.067],[-0.066,0.072],[-0.055,0.073],[-0.046,0.067],[-0.050,0.058],[-0.061,0.052],[-0.072,0.049]],
 [[-0.071,0.059],[-0.066,0.067],[-0.057,0.068],[-0.052,0.064],[-0.059,0.058],[-0.066,0.055]],
 [[-0.069,0.062],[-0.067,0.062],[-0.068,0.060]],
 [[-0.061,0.069],[-0.056,0.069],[-0.058,0.066]],
 [[0.036,0.069],[0.046,0.079],[0.059,0.082],[0.073,0.075],[0.080,0.062],[0.080,0.047],[0.071,0.040],[0.057,0.042],[0.046,0.049],[0.037,0.059]],
 [[0.043,0.067],[0.052,0.074],[0.064,0.075],[0.073,0.067],[0.074,0.054],[0.068,0.047],[0.057,0.048],[0.048,0.054]],
 [[0.050,0.065],[0.059,0.069],[0.068,0.064],[0.068,0.054],[0.059,0.053],[0.052,0.058]],
 [[-0.084,-0.049],[-0.080,-0.039],[-0.068,-0.035],[-0.055,-0.037],[-0.041,-0.044],[-0.034,-0.056],[-0.039,-0.069],[-0.050,-0.075],[-0.064,-0.075],[-0.075,-0.069],[-0.082,-0.059]],
 [[-0.077,-0.049],[-0.071,-0.041],[-0.059,-0.042],[-0.048,-0.050],[-0.043,-0.061],[-0.050,-0.069],[-0.061,-0.069],[-0.072,-0.061]],
 [[-0.069,-0.048],[-0.060,-0.049],[-0.057,-0.055],[-0.064,-0.058],[-0.070,-0.054]],
 [[-0.060,-0.060],[-0.052,-0.060],[-0.053,-0.066],[-0.059,-0.066]],
 [[0.041,-0.066],[0.046,-0.054],[0.057,-0.042],[0.071,-0.039],[0.080,-0.045],[0.081,-0.059],[0.073,-0.069],[0.059,-0.074],[0.048,-0.074]],
 [[0.050,-0.064],[0.055,-0.054],[0.064,-0.046],[0.073,-0.047],[0.075,-0.059],[0.068,-0.066],[0.057,-0.069]],
 [[0.059,-0.061],[0.063,-0.054],[0.071,-0.052],[0.071,-0.060],[0.064,-0.064]]
];

// ---------------- layout & style ----------------
const FONT = 'DejaVu Sans';
const NAVY = '#0b138c', CYAN = '#3de6d0', RED = '#ff2b0c', DARK = '#870000';
const BOX = '#a6a6a6', TXT = '#262626';
const LINE_COLORS = [NAVY, CYAN, RED, DARK];
const gridBoxes = [
  {left:61, top:23, width:216, height:199},
  {left:418, top:23, width:217, height:199},
  {left:764, top:23, width:229, height:209},
  {left:61, top:288, width:216, height:199},
  {left:418, top:288, width:217, height:199}
];
const cbBoxes = [
  {left:284, top:23, width:12, height:199},
  {left:642, top:23, width:12, height:199},
  {left:1001, top:23, width:12, height:209},
  {left:284, top:288, width:13, height:199},
  {left:642, top:288, width:13, height:199}
];
const R1 = [-0.148, 0.148], RY = [-0.15, 0.1485], R3 = [-0.15, 0.15];
const panels = [
  {xr:R1, yr:RY, xt:xTicks, sets:[coupledNavy, coupledCyan, coupledRed, coupledDark]},
  {xr:R1, yr:RY, xt:xTicks, sets:[observedNavy, observedCyan, observedRed, observedDark]},
  {xr:R3, yr:R3, xt:xTicksPred, sets:[predictedNavy, predictedCyan, predictedRed, predictedDark]},
  {xr:R1, yr:RY, xt:xTicks, sets:[uncoupledNavy, [], uncoupledRed, uncoupledDark]},
  {xr:R1, yr:RY, xt:xTicks, sets:[noRadNavy, [], noRadRed, noRadDark]}
];
const fmt = v => String(parseFloat(Number(v).toFixed(3)));

function valAxis(gi, pos, showLabel, range, ticks) {
  return {
    type:'value', gridIndex:gi, position:pos, min:range[0], max:range[1],
    axisLine:{show:false, onZero:false},
    axisTick:{show:true, inside:true, length:3, customValues:ticks, lineStyle:{color:'#8c8c8c', width:1}},
    axisLabel:{show:showLabel, customValues:ticks, formatter:fmt, color:TXT, fontSize:11, fontFamily:FONT, margin:5},
    splitLine:{show:false}
  };
}

const option = {animation:false, backgroundColor:'#fff', grid:[], xAxis:[], yAxis:[], series:[], graphic:[]};

panels.forEach((p, i) => {
  option.grid.push(Object.assign({show:true, borderColor:BOX, borderWidth:1, backgroundColor:'rgba(0,0,0,0)'}, gridBoxes[i]));
  option.xAxis.push(valAxis(i, 'bottom', true, p.xr, p.xt));
  option.xAxis.push(valAxis(i, 'top', false, p.xr, p.xt));
  option.yAxis.push(valAxis(i, 'left', true, p.yr, yTicks));
  option.yAxis.push(valAxis(i, 'right', false, p.yr, yTicks));
  p.sets.forEach((set, k) => set.forEach(poly => {
    option.series.push({
      type:'line', xAxisIndex:2*i, yAxisIndex:2*i, data:poly.concat([poly[0]]),
      symbol:'none', showSymbol:false, silent:true, z:2+k,
      lineStyle:{color:LINE_COLORS[k], width:1.7}
    });
  }));
});

const jet = {type:'linear', x:0, y:0, x2:0, y2:1, colorStops:[
  {offset:0, color:'#800000'}, {offset:0.125, color:'#ff0000'}, {offset:0.375, color:'#ffff00'},
  {offset:0.625, color:'#00ffff'}, {offset:0.875, color:'#0000ff'}, {offset:1, color:'#000080'}]};

cbBoxes.forEach((b, j) => {
  const gi = 5 + j;
  option.grid.push(Object.assign({show:true, borderColor:BOX, borderWidth:1}, b));
  option.xAxis.push({type:'category', gridIndex:gi, data:['c'], show:false});
  option.yAxis.push({type:'value', gridIndex:gi, position:'right', min:cbMin, max:cbMax,
    axisLine:{show:false},
    axisTick:{show:true, inside:true, length:2, customValues:cbTicks, lineStyle:{color:'#8c8c8c'}},
    axisLabel:{customValues:cbTicks, formatter:fmt, color:TXT, fontSize:11, fontFamily:FONT, margin:3},
    splitLine:{show:false}});
  option.series.push({type:'bar', xAxisIndex:10+j, yAxisIndex:10+j, stack:'cb'+j, data:[cbMin], barWidth:'100%', itemStyle:{color:'rgba(0,0,0,0)'}, silent:true, z:1});
  option.series.push({type:'bar', xAxisIndex:10+j, yAxisIndex:10+j, stack:'cb'+j, data:[cbMax - cbMin], barWidth:'100%', itemStyle:{color:jet}, silent:true, z:1});
});

function T(x, y, text, size, o) {
  o = o || {};
  return {type:'text', x:x, y:y, rotation:o.rot || 0, silent:true, z:100,
    style:{text:text, fontSize:size, fontFamily:FONT, fontWeight:o.bold ? 'bold' : 'normal',
      fill:o.fill || TXT, align:o.align || 'center', verticalAlign:'middle'}};
}
const G = option.graphic;
// titles
[[169.3,14],[526.7,14],[878.3,14],[169.3,279],[526.7,279]].forEach((c, i) => G.push(T(c[0], c[1], titles[i], 12.5, {bold:true, fill:'#000'})));
// x axis names a2
[[166.5,247],[525,247],[166.5,516],[525,516]].forEach(c => { G.push(T(c[0], c[1], 'a', 13)); G.push(T(c[0]+6, c[1]+7, '2', 9)); });
G.push(T(875, 262, 'a', 13));
G.push({type:'rect', shape:{x:850, y:259.5, width:60, height:12}, style:{fill:'#fff'}, silent:true, z:101});
// y axis names a3
[[12.5,126],[370.5,126],[12.5,391],[370.5,391]].forEach(c => { G.push(T(c[0], c[1], 'a', 13, {rot:Math.PI/2})); G.push(T(c[0]+5, c[1]-8, '3', 9, {rot:Math.PI/2})); });
G.push(T(724, 124, '3', 9, {rot:Math.PI/2}));
// colorbar exponents
[[297.5,15],[655,15],[1013.5,15],[297.5,278],[655,278]].forEach(c => {
  G.push(T(c[0], c[1], '×10', 8.5, {align:'left', fill:'#555'}));
  G.push(T(c[0]+17, c[1]-5, '-3', 8, {align:'left', fill:'#555'}));
});

const chart = echarts.init(document.getElementById('c'), null, {renderer:'canvas'});
chart.setOption(option);
</script>
</body></html>
